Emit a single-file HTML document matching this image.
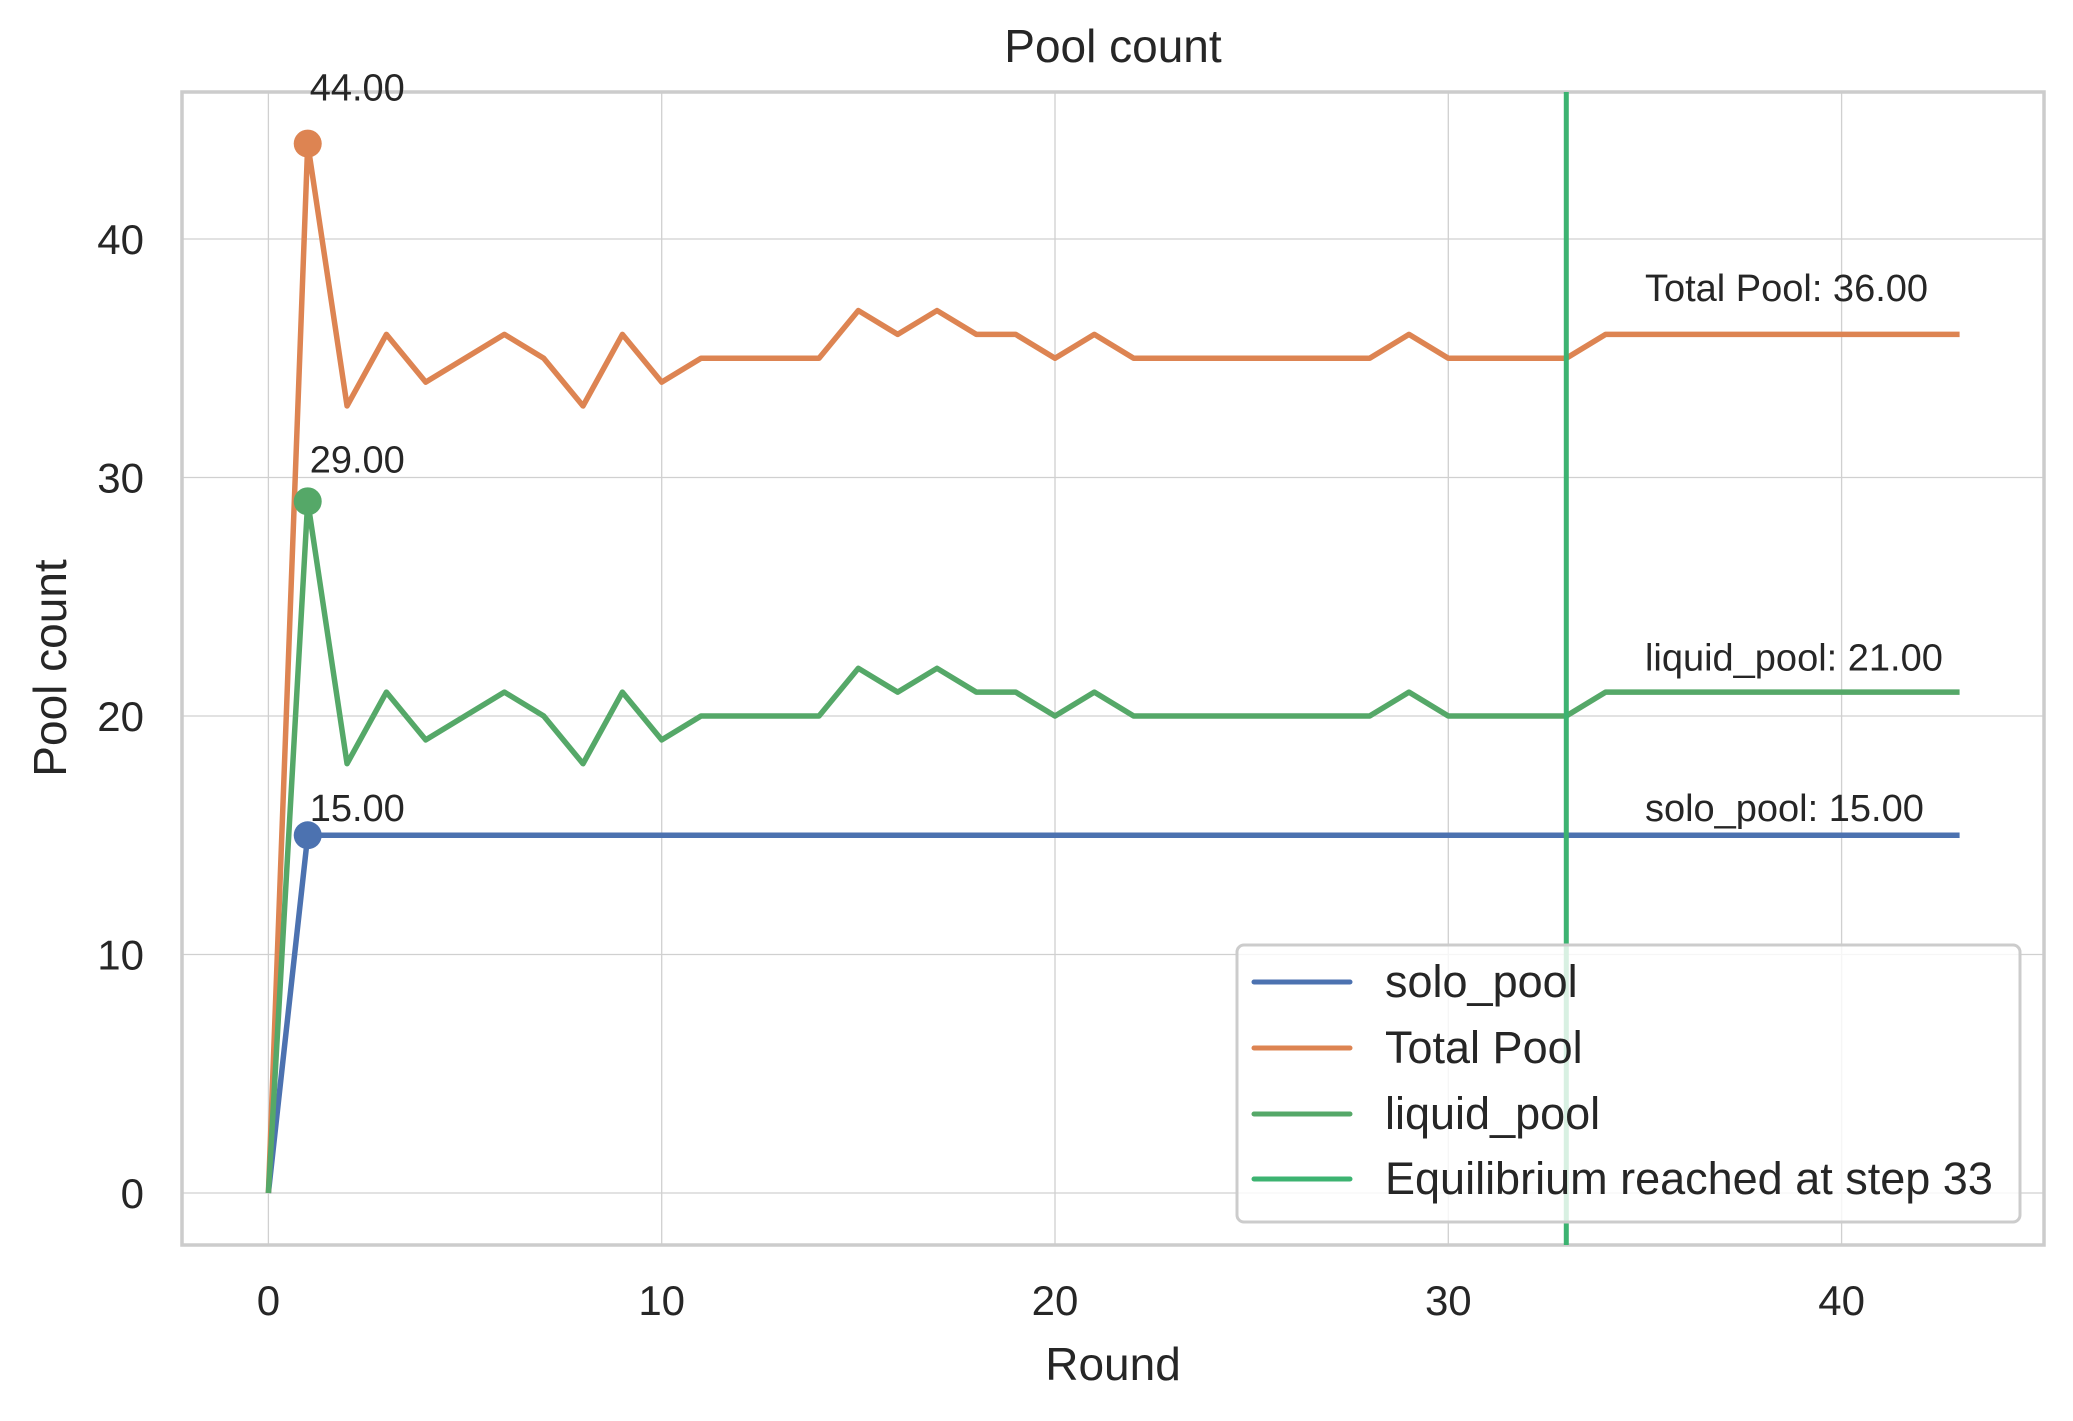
<!DOCTYPE html>
<html><head><meta charset="utf-8"><style>
html,body{margin:0;padding:0;background:#fff;}
svg{display:block;font-family:"Liberation Sans",Arial,sans-serif;}
</style></head><body>
<svg id="chart" width="2073" height="1421" viewBox="0 0 2073 1421" xmlns="http://www.w3.org/2000/svg"></svg>
<script>
const rounds = [0,1,2,3,4,5,6,7,8,9,10,11,12,13,14,15,16,17,18,19,20,21,22,23,24,25,26,27,28,29,30,31,32,33,34,35,36,37,38,39,40,41,42,43];
const soloPool = [0,15,15,15,15,15,15,15,15,15,15,15,15,15,15,15,15,15,15,15,15,15,15,15,15,15,15,15,15,15,15,15,15,15,15,15,15,15,15,15,15,15,15,15];
const totalPool = [0,44,33,36,34,35,36,35,33,36,34,35,35,35,35,37,36,37,36,36,35,36,35,35,35,35,35,35,35,36,35,35,35,35,36,36,36,36,36,36,36,36,36,36];
const liquidPool = [0,29,18,21,19,20,21,20,18,21,19,20,20,20,20,22,21,22,21,21,20,21,20,20,20,20,20,20,20,21,20,20,20,20,21,21,21,21,21,21,21,21,21,21];
const xTicks = [0,10,20,30,40];
const yTicks = [0,10,20,30,40];
const equilibriumStep = 33;
const peakLabels = ["44.00","29.00","15.00"];
const peakValues = [44,29,15];
const peakTextY = [45.8,30.2,15.6];
const endLabels = ["Total Pool: 36.00","liquid_pool: 21.00","solo_pool: 15.00"];
const endValues = [36,21,15];
const endTextY = [37.4,21.9,15.6];

const svg = document.getElementById('chart');
const NS = 'http://www.w3.org/2000/svg';
const L=182, R=2044, T=92, B=1245;
const x = v => 268.4 + v*39.33;
const y = v => 1193 - v*23.85;
function el(tag, attrs, parent){const e=document.createElementNS(NS,tag);for(const k in attrs)e.setAttribute(k,attrs[k]);(parent||svg).appendChild(e);return e;}

yTicks.forEach(t=>{
  const g=el('line',{x1:L,x2:R,y1:y(t),y2:y(t),stroke:'#d0d0d0','stroke-width':1.3});
  
  
  const tx=el('text',{x:L-38,y:y(t)+15,'font-size':42,'text-anchor':'end',fill:'#262626'});
  tx.textContent=t;
  
  
});
xTicks.forEach(t=>{
  const g=el('line',{x1:x(t),x2:x(t),y1:T,y2:B,stroke:'#d0d0d0','stroke-width':1.3});
  
  
  const tx=el('text',{x:x(t),y:B+70,'font-size':42,'text-anchor':'middle',fill:'#262626'});
  tx.textContent=t;
  
  
});

const fr=el('rect',{x:L,y:T,width:R-L,height:B-T,fill:'none',stroke:'#cccccc','stroke-width':3.5});



const series=[[soloPool,'#4c72b0','solo-pool-line'],[totalPool,'#dd8452','total-pool-line'],[liquidPool,'#55a868','liquid-pool-line']];
series.forEach(s=>{
  const p=el('polyline',{points:rounds.map((r,i)=>x(r)+','+y(s[0][i])).join(' '),fill:'none',stroke:s[1],'stroke-width':5.5,'stroke-linejoin':'round'});
  
  
});
const eq=el('line',{x1:x(equilibriumStep),x2:x(equilibriumStep),y1:T,y2:B,stroke:'#3cb371','stroke-width':5});



const peakColors=['#dd8452','#55a868','#4c72b0'];
peakValues.forEach((v,i)=>{
  const c=el('circle',{cx:x(1),cy:y(v),r:14,fill:peakColors[i]});
  
  
  const t=el('text',{x:x(1)+2,y:y(peakTextY[i]),'font-size':38,fill:'#262626'});
  t.textContent=peakLabels[i];
  
  
});
endValues.forEach((v,i)=>{
  const t=el('text',{x:x(35),y:y(endTextY[i]),'font-size':38,fill:'#262626'});
  t.textContent=endLabels[i];
  
  
});

const lg=el('g',{});


const lb=el('rect',{x:1237,y:945,width:783,height:277,rx:7,fill:'rgba(255,255,255,0.8)',stroke:'#cccccc','stroke-width':3},lg);


const legNames=['solo_pool','Total Pool','liquid_pool','Equilibrium reached at step 33'];
const legColors=['#4c72b0','#dd8452','#55a868','#3cb371'];
const legY=[982,1048,1114,1179];
legNames.forEach((n,i)=>{
  const ln=el('line',{x1:1254,x2:1350,y1:legY[i],y2:legY[i],stroke:legColors[i],'stroke-width':5,'stroke-linecap':'round'},lg);
  
  
  const t=el('text',{x:1385,y:legY[i]+15,'font-size':45,fill:'#262626'},lg);
  t.textContent=n;
  
  
});

const tt=el('text',{x:(L+R)/2,y:62,'font-size':46,'text-anchor':'middle',fill:'#262626'});
tt.textContent='Pool count';


const xt=el('text',{x:(L+R)/2,y:1380,'font-size':46,'text-anchor':'middle',fill:'#262626'});
xt.textContent='Round';


const yt=el('text',{x:0,y:0,'font-size':46,'text-anchor':'middle',fill:'#262626',transform:'translate(66,668) rotate(-90)'});
yt.textContent='Pool count';


</script>
</body></html>
